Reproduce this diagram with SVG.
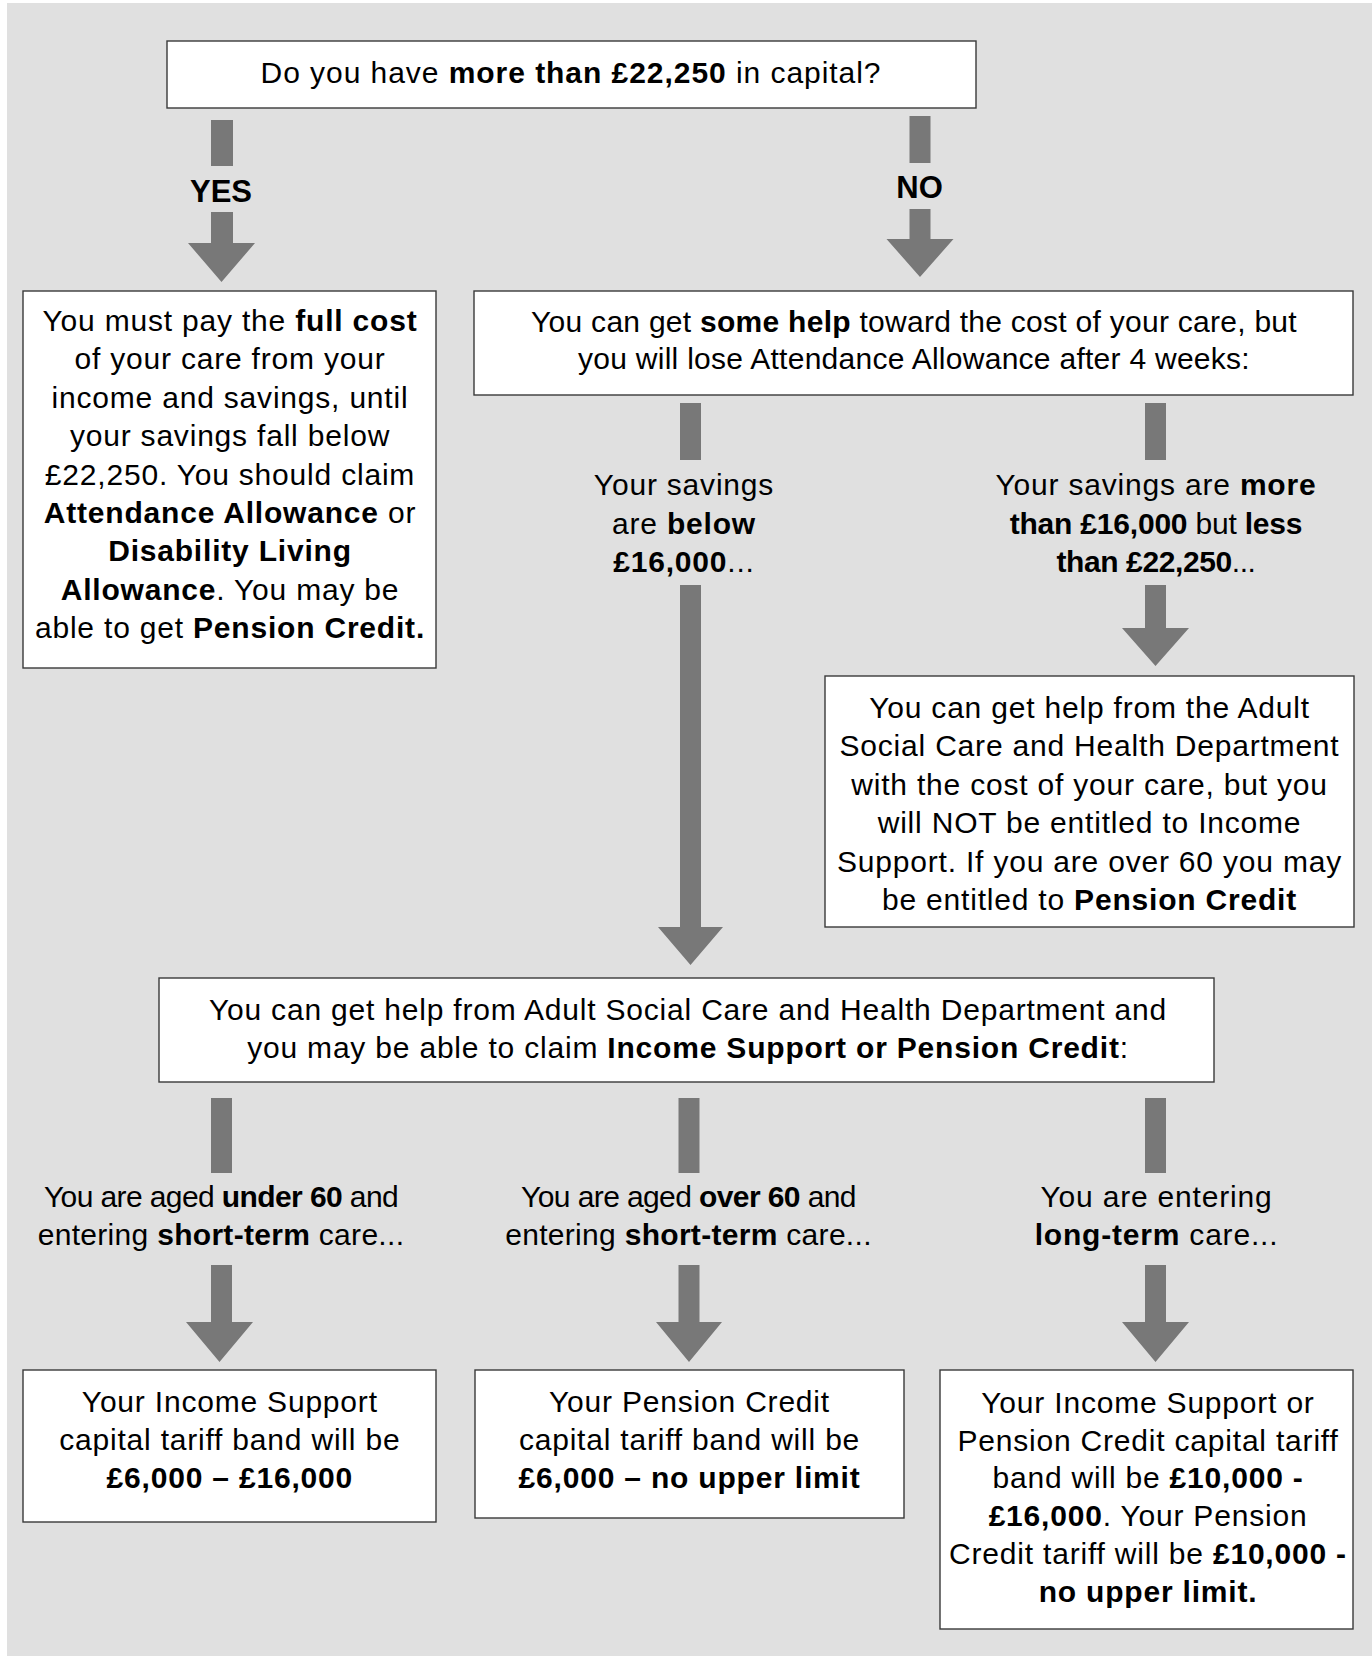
<svg xmlns="http://www.w3.org/2000/svg" width="1372" height="1656" viewBox="0 0 1372 1656">
<style>
.bg{fill:#e0e0e0}
.box{fill:#ffffff;stroke:#3a3a3a;stroke-width:1.4}
.arr{fill:#787878;stroke:none}
text{font-family:"Liberation Sans",Arial,Helvetica,sans-serif;font-size:30px;fill:#000;text-anchor:middle;letter-spacing:0.8px}
.b{font-weight:bold}
.lbl{font-weight:bold;font-size:31px;letter-spacing:0}
.tight{letter-spacing:-0.6px}
.top{letter-spacing:0.95px}
.s3{letter-spacing:0.27px}
.s2{letter-spacing:0.3px}
.n2{letter-spacing:-0.2px}
.n4{letter-spacing:-0.4px}
</style>
<rect x="0" y="0" width="1372" height="1656" fill="#ffffff"/>
<rect class="bg" x="7" y="3" width="1365" height="1653"/>

<g id="connectors">
  <rect class="arr" x="211" y="120" width="22" height="46"/>
  <path class="arr" d="M211,212 H233 V243 H255 L221.5,282 L188,243 H211 Z"/>
  <text class="lbl" x="221" y="201.5">YES</text>
  <rect class="arr" x="909.5" y="116" width="21" height="47"/>
  <path class="arr" d="M909.5,209 H930.5 V239 H953.5 L920,277 L886.5,239 H909.5 Z"/>
  <text class="lbl" x="919.5" y="197.5">NO</text>

  <rect class="arr" x="680" y="403" width="21" height="57"/>
  <path class="arr" d="M680,585 H701 V927 H723 L690.5,965 L658,927 H680 Z"/>
  <rect class="arr" x="1145" y="403" width="21" height="57"/>
  <path class="arr" d="M1145,585 H1166 V628 H1189 L1155.5,666 L1122,628 H1145 Z"/>

  <rect class="arr" x="211" y="1098" width="21" height="75"/>
  <path class="arr" d="M211,1265 H232 V1322 H253 L219.5,1362 L186,1322 H211 Z"/>
  <rect class="arr" x="678.5" y="1098" width="21" height="75"/>
  <path class="arr" d="M678.5,1265 H699.5 V1322 H722 L689,1362 L656,1322 H678.5 Z"/>
  <rect class="arr" x="1145" y="1098" width="21" height="75"/>
  <path class="arr" d="M1145,1265 H1166 V1322 H1189 L1155.5,1362 L1122,1322 H1145 Z"/>
</g>

<g id="q-capital">
  <rect class="box" x="167" y="41" width="809" height="67"/>
  <text class="top" x="571" y="83">Do you have <tspan class="b">more than £22,250</tspan> in capital?</text>
</g>

<g id="yes-full-cost">
  <rect class="box" x="23" y="291" width="413" height="377"/>
  <text x="230" y="331">You must pay the <tspan class="b">full cost</tspan></text>
  <text x="230" y="369.4">of your care from your</text>
  <text x="230" y="407.8">income and savings, until</text>
  <text x="230" y="446.2">your savings fall below</text>
  <text x="230" y="484.6">£22,250. You should claim</text>
  <text x="230" y="523"><tspan class="b">Attendance Allowance</tspan> or</text>
  <text x="230" y="561.4" class="b">Disability Living</text>
  <text x="230" y="599.8"><tspan class="b">Allowance</tspan>. You may be</text>
  <text x="230" y="638.2">able to get <tspan class="b">Pension Credit.</tspan></text>
</g>

<g id="no-some-help">
  <rect class="box" x="474" y="291" width="879" height="104"/>
  <text class="s3" x="914" y="332">You can get <tspan class="b">some help</tspan> toward the cost of your care, but</text>
  <text class="s3" x="914" y="369">you will lose Attendance Allowance after 4 weeks:</text>
</g>

<g id="savings-below">
  <text x="684" y="495">Your savings</text>
  <text x="684" y="533.5">are <tspan class="b">below</tspan></text>
  <text x="684" y="572"><tspan class="b">£16,000</tspan>...</text>
</g>

<g id="savings-between">
  <text x="1156" y="495">Your savings are <tspan class="b">more</tspan></text>
  <text class="n2" x="1156" y="533.5"><tspan class="b">than £16,000</tspan> but <tspan class="b">less</tspan></text>
  <text class="n4" x="1156" y="572"><tspan class="b">than £22,250</tspan>...</text>
</g>

<g id="help-no-income-support">
  <rect class="box" x="825" y="676" width="529" height="251"/>
  <text x="1089.5" y="718">You can get help from the Adult</text>
  <text x="1089.5" y="756.4">Social Care and Health Department</text>
  <text x="1089.5" y="794.8">with the cost of your care, but you</text>
  <text x="1089.5" y="833.2">will NOT be entitled to Income</text>
  <text x="1089.5" y="871.6">Support. If you are over 60 you may</text>
  <text x="1089.5" y="910">be entitled to <tspan class="b">Pension Credit</tspan></text>
</g>

<g id="help-income-support">
  <rect class="box" x="159" y="978" width="1055" height="104"/>
  <text x="688" y="1020">You can get help from Adult Social Care and Health Department and</text>
  <text x="688" y="1058">you may be able to claim <tspan class="b">Income Support or Pension Credit</tspan>:</text>
</g>

<g id="under-60">
  <text class="tight" x="221" y="1206.5">You are aged <tspan class="b">under 60</tspan> and</text>
  <text class="s2" x="221" y="1245">entering <tspan class="b">short-term</tspan> care...</text>
</g>
<g id="over-60">
  <text class="tight" x="688.5" y="1206.5">You are aged <tspan class="b">over 60</tspan> and</text>
  <text class="s2" x="688.5" y="1245">entering <tspan class="b">short-term</tspan> care...</text>
</g>
<g id="long-term">
  <text x="1156.5" y="1206.5">You are entering</text>
  <text x="1156.5" y="1245"><tspan class="b">long-term</tspan> care...</text>
</g>

<g id="band-income-support">
  <rect class="box" x="23" y="1370" width="413" height="152"/>
  <text x="229.8" y="1412">Your Income Support</text>
  <text x="229.8" y="1450">capital tariff band will be</text>
  <text x="229.8" y="1487.5" class="b">£6,000 – £16,000</text>
</g>
<g id="band-pension-credit">
  <rect class="box" x="475" y="1370" width="429" height="148"/>
  <text x="689.5" y="1412">Your Pension Credit</text>
  <text x="689.5" y="1450">capital tariff band will be</text>
  <text x="689.5" y="1487.5" class="b">£6,000 – no upper limit</text>
</g>
<g id="band-long-term">
  <rect class="box" x="940" y="1370" width="413" height="259"/>
  <text x="1148" y="1412.7">Your Income Support or</text>
  <text x="1148" y="1450.5">Pension Credit capital tariff</text>
  <text x="1148" y="1488.3">band will be <tspan class="b">£10,000 -</tspan></text>
  <text x="1148" y="1526"><tspan class="b">£16,000</tspan>. Your Pension</text>
  <text x="1148" y="1563.8">Credit tariff will be <tspan class="b">£10,000 -</tspan></text>
  <text x="1148" y="1601.6" class="b">no upper limit.</text>
</g>
</svg>
